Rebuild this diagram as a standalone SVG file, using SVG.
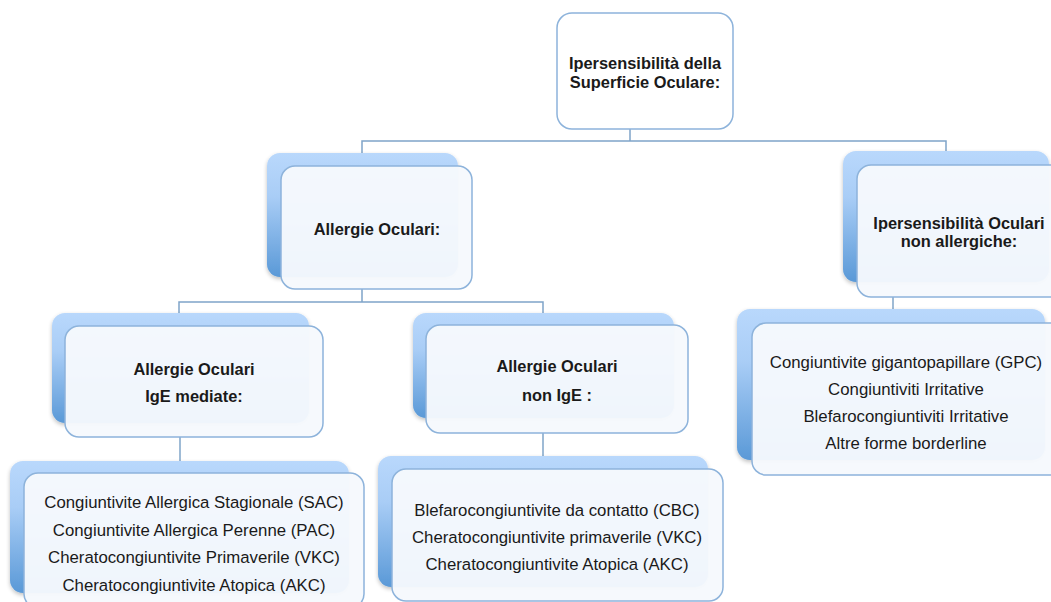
<svg xmlns="http://www.w3.org/2000/svg" width="1051" height="602" viewBox="0 0 1051 602">
<defs>
<linearGradient id="backGrad" x1="0" y1="0" x2="0" y2="1">
<stop offset="0" stop-color="#b9d8fc"/>
<stop offset="0.35" stop-color="#a9cdf6"/>
<stop offset="1" stop-color="#5a99d7"/>
</linearGradient>
<filter id="shadow" x="-10%" y="-10%" width="130%" height="130%">
<feGaussianBlur in="SourceAlpha" stdDeviation="2"/>
<feOffset dx="0" dy="2"/>
<feComponentTransfer><feFuncA type="linear" slope="0.25"/></feComponentTransfer>
<feMerge><feMergeNode/><feMergeNode in="SourceGraphic"/></feMerge>
</filter>
<style>
.conn{fill:none;stroke:#7fa4c9;stroke-width:1.5}
.back{fill:url(#backGrad);filter:url(#shadow)}
.front{fill:#f6f9fd;fill-opacity:0.96;stroke:#8db3db;stroke-width:1.5}
.top{fill:#ffffff;stroke:#8db3db;stroke-width:1.5}
.t{font-family:"Liberation Sans",Arial,sans-serif;font-size:16.8px;fill:#1a1a1a;text-anchor:middle}
.b{font-weight:bold;font-size:16.4px}
</style>
</defs>
<rect width="1051" height="602" fill="#ffffff"/>
<g id="connectors">
<path class="conn" d="M630 129 V141 H362 V155 M630 141 H946 V153"/>
<path class="conn" d="M362 289 V302 H179 V315 M362 302 H543 V315"/>
<path class="conn" d="M180 437 V463"/>
<path class="conn" d="M543 433 V458"/>
<path class="conn" d="M893 297 V311"/>
</g>
<g id="node-root">
<rect class="top" x="557" y="13" width="176" height="116" rx="15"/>
<text class="t b" x="645" y="69">Ipersensibilità della</text>
<text class="t b" x="645" y="88">Superficie Oculare:</text>
</g>
<g id="node-allergie">
<rect class="back" x="267" y="153" width="191" height="124" rx="13"/>
<rect class="front" x="281" y="166" width="191" height="123" rx="14"/>
<text class="t b" x="377" y="235">Allergie Oculari:</text>
</g>
<g id="node-non-allergiche">
<rect class="back" x="843" y="151" width="206" height="131" rx="13"/>
<rect class="front" x="857" y="165" width="210" height="132" rx="14"/>
<text class="t b" x="959" y="229">Ipersensibilità Oculari</text>
<text class="t b" x="959" y="247">non allergiche:</text>
</g>
<g id="node-ige">
<rect class="back" x="52" y="313" width="257" height="110" rx="13"/>
<rect class="front" x="65" y="326" width="258" height="111" rx="14"/>
<text class="t b" x="194" y="375">Allergie Oculari</text>
<text class="t b" x="194" y="402">IgE mediate:</text>
</g>
<g id="node-non-ige">
<rect class="back" x="413" y="313" width="261" height="105" rx="13"/>
<rect class="front" x="426" y="325" width="262" height="108" rx="14"/>
<text class="t b" x="557" y="372">Allergie Oculari</text>
<text class="t b" x="557" y="401">non IgE :</text>
</g>
<g id="node-list-ige">
<rect class="back" x="10" y="461" width="339" height="132" rx="13"/>
<rect class="front" x="24" y="473" width="340" height="135" rx="14"/>
<text class="t" x="194" y="508">Congiuntivite Allergica Stagionale (SAC)</text>
<text class="t" x="194" y="536">Congiuntivite Allergica Perenne (PAC)</text>
<text class="t" x="194" y="563">Cheratocongiuntivite Primaverile (VKC)</text>
<text class="t" x="194" y="591">Cheratocongiuntivite Atopica (AKC)</text>
</g>
<g id="node-list-non-ige">
<rect class="back" x="378" y="456" width="330" height="131" rx="13"/>
<rect class="front" x="392" y="469" width="331" height="132" rx="14"/>
<text class="t" x="557" y="516">Blefarocongiuntivite da contatto (CBC)</text>
<text class="t" x="557" y="543">Cheratocongiuntivite primaverile (VKC)</text>
<text class="t" x="557" y="570">Cheratocongiuntivite Atopica (AKC)</text>
</g>
<g id="node-list-non-allergiche">
<rect class="back" x="737" y="309" width="308" height="151" rx="13"/>
<rect class="front" x="752" y="323" width="315" height="152" rx="14"/>
<text class="t" x="906" y="368">Congiuntivite gigantopapillare (GPC)</text>
<text class="t" x="906" y="395">Congiuntiviti Irritative</text>
<text class="t" x="906" y="422">Blefarocongiuntiviti Irritative</text>
<text class="t" x="906" y="449">Altre forme borderline</text>
</g>
</svg>
